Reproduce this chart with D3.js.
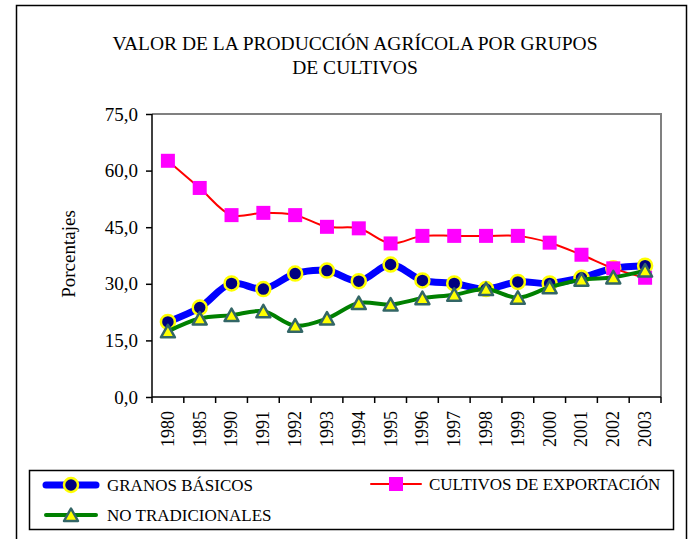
<!DOCTYPE html>
<html>
<head>
<meta charset="utf-8">
<script src="https://cdn.jsdelivr.net/npm/d3@7"></script>
<style>
	body { margin: 0; background: #fff; }
</style>
</head>
<body>
<div id="picture"></div>
<script>
// data
const years    = ["1980", "1985", "1990", "1991", "1992", "1993", "1994", "1995",
                  "1996", "1997", "1998", "1999", "2000", "2001", "2002", "2003"];
const granos   = [19.9, 23.7, 30.1, 28.6, 32.7, 33.5, 30.7, 35.1,
                  30.9, 30.1, 28.6, 30.5, 30.1, 31.6, 34.1, 34.8];
const cultivos = [62.6, 55.4, 48.2, 48.8, 48.2, 45.1, 44.7, 40.7,
                  42.7, 42.7, 42.7, 42.7, 40.9, 37.7, 34.1, 31.6];
const noTrad   = [17.4, 20.8, 21.7, 22.7, 18.9, 20.8, 24.9, 24.5,
                  26.2, 27.1, 28.6, 26.3, 29.1, 31.1, 31.7, 33.5];
const yTicks   = [0, 15, 30, 45, 60, 75];
const titleLines = ["VALOR DE LA PRODUCCIÓN AGRÍCOLA POR GRUPOS", "DE CULTIVOS"];
const yLabel   = "Porcentajes";

const FONT = "Liberation Serif";
const width = 690, height = 539
	, plot = { left: 152, right: 661, top: 114, bottom: 397 };

const svg = d3.select("#picture")
	.append("svg")
		.attr("width", width)
		.attr("height", height);

// outer frame
svg.append("rect")
	.attr("x", 16.5).attr("y", 5.5)
	.attr("width", 670).attr("height", 560)
	.attr("fill", "none")
	.attr("stroke", "#000")
	.attr("stroke-width", 1.5);

// title
svg.append("text")
	.attr("text-anchor", "middle")
	.attr("font-size", 19.5)
	.style("font-family", FONT)
	.selectAll("tspan")
	.data(titleLines)
	.join("tspan")
		.attr("x", 355)
		.attr("y", (d, i) => 50 + i * 24)
		.text(d => d);

// scales
const x = d3.scaleBand()
	.domain(years)
	.range([plot.left, plot.right]);
const y = d3.scaleLinear()
	.domain([0, 75])
	.range([plot.bottom, plot.top]);

// plot area border (gray top/right)
svg.append("path")
	.attr("d", "M" + plot.left + "," + plot.top + "H" + plot.right + "V" + plot.bottom)
	.attr("fill", "none")
	.attr("stroke", "#808080")
	.attr("stroke-width", 2);

// y axis
const yAxis = svg.append("g")
	.attr("transform", "translate(" + plot.left + ",0)")
	.call(d3.axisLeft(y)
		.tickValues(yTicks)
		.tickSize(6)
		.tickPadding(8)
		.tickFormat(d => d3.format(".1f")(d).replace(".", ",")));
yAxis.attr("font-family", null);
yAxis.selectAll("text")
	.attr("font-size", 19)
	.style("font-family", FONT)
	.attr("fill", "#000");
yAxis.selectAll("line, path").attr("stroke", "#000").attr("stroke-width", 1.5);
yAxis.select(".domain").attr("d", "M0," + plot.top + "V" + plot.bottom);

// x axis: ticks between categories
const xAxis = svg.append("g")
	.attr("transform", "translate(0," + plot.bottom + ")");
xAxis.append("line")
	.attr("x1", plot.left).attr("x2", plot.right)
	.attr("stroke", "#000").attr("stroke-width", 1.5);
xAxis.selectAll(".tk")
	.data(years.concat(["end"]))
	.join("line")
		.attr("class", "tk")
		.attr("x1", (d, i) => i < years.length ? x(d) : plot.right)
		.attr("x2", (d, i) => i < years.length ? x(d) : plot.right)
		.attr("y1", 0).attr("y2", 6)
		.attr("stroke", "#000").attr("stroke-width", 1.5);
xAxis.selectAll(".lbl")
	.data(years)
	.join("text")
		.attr("class", "lbl")
		.attr("font-size", 18)
		.style("font-family", FONT)
		.attr("text-anchor", "end")
		.attr("dy", "0.33em")
		.attr("transform", d => "translate(" + (x(d) + x.bandwidth() / 2) + ",14) rotate(-90)")
		.text(d => d);

// y label
svg.append("text")
	.attr("font-size", 19)
	.style("font-family", FONT)
	.attr("text-anchor", "middle")
	.attr("transform", "translate(75,254) rotate(-90)")
	.text(yLabel);

// lines
const cx = d => x(d) + x.bandwidth() / 2;
const line = d3.line()
	.x((d, i) => cx(years[i]))
	.y(d => y(d))
	.curve(d3.curveCatmullRom.alpha(0.5));

const series = [
	{ name: "NO TRADICIONALES",         values: noTrad,   color: "#008000", w: 4, marker: "tri" },
	{ name: "GRANOS BÁSICOS",           values: granos,   color: "#0000FF", w: 7, marker: "circ" },
	{ name: "CULTIVOS DE EXPORTACIÓN",  values: cultivos, color: "#FF0000", w: 2, marker: "sq" }
];

function drawMarker(g, type) {
	if (type === "circ")
		g.append("circle").attr("r", 7)
			.attr("fill", "#000080").attr("stroke", "#FFFF00").attr("stroke-width", 2.5);
	else if (type === "sq")
		g.append("rect").attr("x", -7).attr("y", -7).attr("width", 14).attr("height", 14)
			.attr("fill", "#FF00FF");
	else
		g.append("path").attr("d", "M0,-6.5L7,6H-7Z")
			.attr("fill", "#FFFF00").attr("stroke", "#336666").attr("stroke-width", 2.5)
			.attr("stroke-linejoin", "round");
}

// draw order: granos, cultivos, noTrad (triangles on top)
[series[1], series[2], series[0]].forEach(s => {
	svg.append("path")
		.attr("d", line(s.values))
		.attr("fill", "none")
		.attr("stroke", s.color)
		.attr("stroke-width", s.w)
		.attr("stroke-linejoin", "round");
	s.values.forEach((v, i) => {
		const g = svg.append("g")
			.attr("transform", "translate(" + cx(years[i]) + "," + y(v) + ")");
		drawMarker(g, s.marker);
	});
});

// legend
svg.append("rect")
	.attr("x", 29.5).attr("y", 470.5)
	.attr("width", 644).attr("height", 59)
	.attr("fill", "none").attr("stroke", "#000").attr("stroke-width", 1.5);

const legendItems = [
	{ s: series[1], x: 46, y: 485 },
	{ s: series[2], x: 371, y: 484 },
	{ s: series[0], x: 46, y: 515 }
];
legendItems.forEach(it => {
	const g = svg.append("g").attr("transform", "translate(" + it.x + "," + it.y + ")");
	g.append("line")
		.attr("x1", 0).attr("x2", 50)
		.attr("stroke", it.s.color)
		.attr("stroke-width", it.s.w)
		.attr("stroke-linecap", "round");
	const m = g.append("g").attr("transform", "translate(25,0)");
	drawMarker(m, it.s.marker);
	g.append("text")
		.attr("x", it.s.marker === "sq" ? 58 : 61)
		.attr("dy", "0.35em")
		.attr("font-size", 17)
		.style("font-family", FONT)
		.text(it.s.name);
});
</script>
</body>
</html>
